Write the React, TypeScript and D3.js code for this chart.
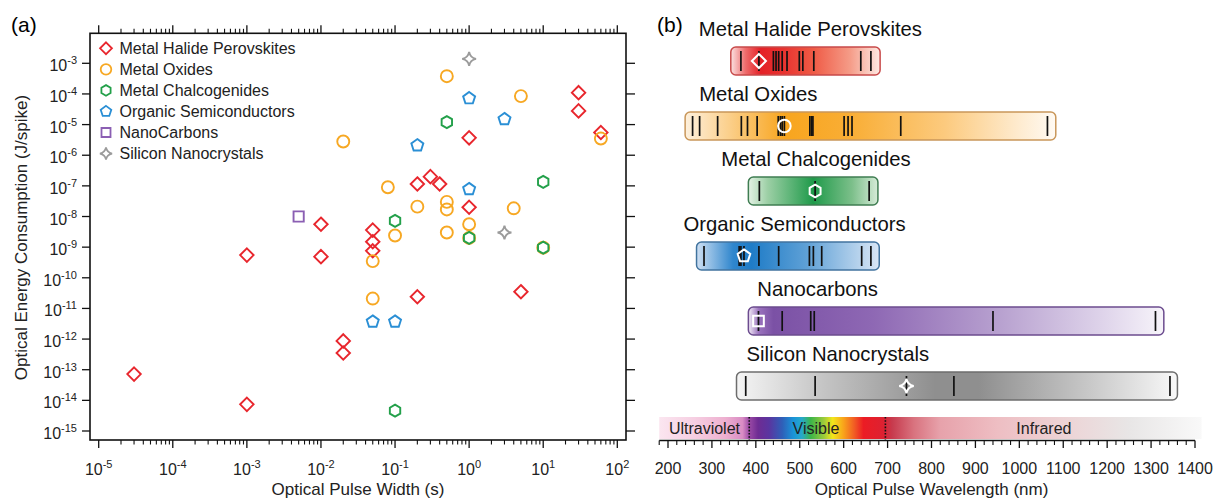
import React from 'react';
import * as d3 from 'd3';

const W = 1221;
const H = 501;
const FONT = '"Liberation Sans", Arial, Helvetica, sans-serif';

// ---------- Panel (a): pulse width (s) vs energy per spike (J) ----------
const perovskites: [number, number][] = [
  [30, 1.1e-4], [30, 2.8e-5], [60, 5.5e-6], [1, 3.7e-6], [0.3, 2e-7],
  [0.2, 1.15e-7], [0.4, 1.15e-7], [1, 2e-8], [0.01, 5.6e-9], [0.05, 3.6e-9],
  [0.05, 1.5e-9], [0.05, 7.6e-10], [0.001, 5.5e-10], [0.01, 4.9e-10],
  [0.2, 2.4e-11], [5, 3.5e-11], [0.02, 8.7e-13], [0.02, 3.5e-13],
  [3e-5, 7.2e-14], [0.001, 7.4e-15],
];
const oxides: [number, number][] = [
  [0.5, 3.8e-4], [5, 8.5e-5], [60, 3.5e-6], [0.02, 2.8e-6], [0.08, 9e-8],
  [0.2, 2.1e-8], [0.5, 3e-8], [0.5, 1.7e-8], [4, 1.85e-8], [1, 5.6e-9],
  [0.1, 2.4e-9], [0.5, 3e-9], [1, 2e-9], [10, 9.6e-10], [0.05, 3.5e-10],
  [0.05, 2.1e-11],
];
const chalcogenides: [number, number][] = [
  [0.5, 1.2e-5], [10, 1.35e-7], [0.1, 7.2e-9], [1, 2e-9], [10, 9.6e-10], [0.1, 4.6e-15],
];
const organics: [number, number][] = [
  [1, 7.2e-5], [3, 1.5e-5], [0.2, 2.1e-6], [1, 7.8e-8], [0.05, 3.7e-12], [0.1, 3.7e-12],
];
const nanocarbons: [number, number][] = [[0.005, 1e-8]];
const siliconNC: [number, number][] = [[1, 1.4e-3], [3, 3e-9]];

const seriesNames = [
  'Metal Halide Perovskites', 'Metal Oxides', 'Metal Chalcogenides',
  'Organic Semiconductors', 'NanoCarbons', 'Silicon Nanocrystals',
];
const xExponents = [-5, -4, -3, -2, -1, 0, 1, 2];
const yExponents = [-3, -4, -5, -6, -7, -8, -9, -10, -11, -12, -13, -14, -15];

// ---------- Panel (b): wavelengths reported per material class ----------
const materialNames = [
  'Metal Halide Perovskites', 'Metal Oxides', 'Metal Chalcogenides',
  'Organic Semiconductors', 'Nanocarbons', 'Silicon Nanocrystals',
];
const bandStart = [343, 239, 383, 265, 383, 356];
const bandEnd = [683, 1083, 678, 681, 1329, 1360];
const reportedWavelengths: number[][] = [
  [366, 407, 440, 446, 452, 460, 471, 499, 507, 532, 639, 662],
  [256, 272, 313, 367, 381, 403, 451, 456, 460, 465, 523, 527, 530, 601, 610, 619, 730, 1064],
  [408, 535, 658],
  [282, 362, 366, 373, 407, 452, 522, 531, 550, 641, 662],
  [406, 460, 525, 533, 940, 1310],
  [377, 535, 743, 851, 1343],
];
const markerWavelength = [407, 465, 535, 373, 406, 743];
const regionNames = ['Ultraviolet', 'Visible', 'Infrared'];
const regionLabelAt = [283, 537, 1056];
const regionBounds = [385, 695];

// ---------- styling ----------
const shapes = ['diamond', 'circle', 'hexagon', 'pentagon', 'square', 'star'];
const colors = ['#e8262d', '#f7a823', '#23a04a', '#2a8fd5', '#8b5fb3', '#9b9b9b'];
const bandBorder = ['#c84a4a', '#c9975a', '#3f7d52', '#41739e', '#6c4c8f', '#6d6d6d'];
const bandStops: [number, string][][] = [
  [[0, '#fbe1e1'], [0.1, '#ee6b6b'], [0.2, '#e42127'], [0.35, '#e8322f'], [0.55, '#ef5a45'], [0.8, '#f59c88'], [1, '#fde9e3']],
  [[0, '#fdf0dd'], [0.12, '#fbcf8a'], [0.27, '#f8a51e'], [0.45, '#f9ae36'], [0.7, '#fcca7e'], [0.9, '#feebcf'], [1, '#fffaf3']],
  [[0, '#e4f2e5'], [0.15, '#9ccfa5'], [0.5, '#1f9a4a'], [0.8, '#7cbf8a'], [1, '#d6ebd8']],
  [[0, '#cfe0f3'], [0.2, '#2f86cd'], [0.3, '#1f7cc7'], [0.6, '#5ea0d6'], [1, '#d9e6f5']],
  [[0, '#f3ecf7'], [0.025, '#9a72bd'], [0.06, '#7b51a5'], [0.3, '#8e68b4'], [0.6, '#b7a0cf'], [0.85, '#ded3ea'], [1, '#f7f4fa']],
  [[0, '#f5f5f5'], [0.2, '#c4c4c4'], [0.45, '#8f8f8f'], [0.55, '#8f8f8f'], [0.8, '#c8c8c8'], [1, '#f8f8f8']],
];
const labelOffset = [-32, 14, -27, -13, 9, 10];
const spectrumStops: [number, string][] = [
  [180, '#fbe6f0'], [260, '#f6cfe2'], [330, '#eeb0d0'], [370, '#d98cc4'], [385, '#9b4aa6'],
  [405, '#6e2c93'], [430, '#5a35a0'], [460, '#2f5fb8'], [485, '#1a93d8'], [505, '#27a9c9'],
  [525, '#3cb549'], [555, '#9ccb3b'], [575, '#f3e61a'], [600, '#f9a21b'], [625, '#f15a24'],
  [645, '#ec1c24'], [690, '#dd2131'], [710, '#c73a4d'], [760, '#d9737f'], [820, '#e7a2ab'],
  [950, '#eebec3'], [1100, '#edd3d5'], [1250, '#e8e6e6'], [1415, '#f9f9f9'],
];

function shapePath(kind: string, cx: number, cy: number, s: number): string {
  const poly = (n: number, r: number) => {
    const pts = d3.range(n).map((k) => {
      const a = -Math.PI / 2 + (k * 2 * Math.PI) / n;
      return [cx + r * Math.cos(a), cy + r * Math.sin(a)];
    });
    return 'M' + pts.map((p) => p.join(',')).join('L') + 'Z';
  };
  switch (kind) {
    case 'diamond':
      return `M${cx},${cy - s * 1.12}L${cx + s * 1.12},${cy}L${cx},${cy + s * 1.12}L${cx - s * 1.12},${cy}Z`;
    case 'circle': {
      const p = d3.path();
      p.arc(cx, cy, s, 0, Math.PI * 2);
      p.closePath();
      return p.toString();
    }
    case 'hexagon':
      return poly(6, s);
    case 'pentagon':
      return poly(5, s * 1.05);
    case 'square':
      return `M${cx - s * 0.85},${cy - s * 0.85}h${s * 1.7}v${s * 1.7}h${-s * 1.7}Z`;
    case 'star': {
      const r = s * 1.15;
      const c = r * 0.15;
      return `M${cx},${cy - r}Q${cx + c},${cy - c} ${cx + r},${cy}Q${cx + c},${cy + c} ${cx},${cy + r}` +
        `Q${cx - c},${cy + c} ${cx - r},${cy}Q${cx - c},${cy - c} ${cx},${cy - r}Z`;
    }
    default:
      return '';
  }
}

export default function App() {
  const series = [perovskites, oxides, chalcogenides, organics, nanocarbons, siliconNC];

  // panel (a) scales and frame
  const x = d3.scaleLog().domain([1e-5, 1e2]).range([98.7, 617.3]);
  const y = d3.scaleLog().domain([1e-3, 1e-15]).range([63.3, 431]);
  const fL = 90, fR = 626, fT = 33.3, fB = 440;
  const xMinor: number[] = [];
  xExponents.slice(0, -1).forEach((e) => {
    for (let m = 2; m <= 9; m++) xMinor.push(m * Math.pow(10, e));
  });

  // panel (b) scale
  const w = d3.scaleLinear().domain([200, 1400]).range([668, 1195]);
  const bandTop = d3.range(6).map((i) => 47 + i * 65);
  const bandH = 28;
  const stripL = w(180), stripR = w(1415);
  const axisY = 440.5;
  const majorTicks = d3.range(200, 1401, 100);
  const minorTicks = d3.range(180, 1401, 20).filter((v) => v % 100 !== 0);

  return (
    <svg width={W} height={H} style={{ position: 'absolute', left: 0, top: 0, display: 'block', background: '#fff' }}
      fontFamily={FONT}>
      <defs>
        {materialNames.map((_, i) => (
          <linearGradient key={i} id={`band${i}`} gradientUnits="userSpaceOnUse"
            x1={w(bandStart[i])} x2={w(bandEnd[i])} y1={0} y2={0}>
            {bandStops[i].map(([o, c], j) => <stop key={j} offset={o} stopColor={c} />)}
          </linearGradient>
        ))}
        <linearGradient id="spectrum" gradientUnits="userSpaceOnUse" x1={stripL} x2={stripR} y1={0} y2={0}>
          {spectrumStops.map(([nm, c], j) => (
            <stop key={j} offset={(w(nm) - stripL) / (stripR - stripL)} stopColor={c} />
          ))}
        </linearGradient>
      </defs>

      {/* ===== Panel (a) ===== */}
      <text x={11} y={32} fontSize={21}>(a)</text>
      <rect x={fL} y={fT} width={fR - fL} height={fB - fT} fill="none" stroke="#111" strokeWidth={1.6} />
      {xExponents.map((e) => {
        const px = x(Math.pow(10, e));
        return (
          <g key={`xm${e}`} stroke="#111" strokeWidth={1.3}>
            <line x1={px} x2={px} y1={fB} y2={fB + 8} />
            <line x1={px} x2={px} y1={fT} y2={fT - 8} />
          </g>
        );
      })}
      {xMinor.map((v, i) => {
        const px = x(v);
        return (
          <g key={`xn${i}`} stroke="#111" strokeWidth={1.1}>
            <line x1={px} x2={px} y1={fB} y2={fB + 4.5} />
            <line x1={px} x2={px} y1={fT} y2={fT - 4.5} />
          </g>
        );
      })}
      {yExponents.map((e) => {
        const py = y(Math.pow(10, e));
        return (
          <g key={`ym${e}`} stroke="#111" strokeWidth={1.3}>
            <line x1={fL} x2={fL - 8} y1={py} y2={py} />
            <line x1={fR} x2={fR + 9} y1={py} y2={py} />
          </g>
        );
      })}
      {xExponents.map((e) => (
        <text key={`xl${e}`} x={x(Math.pow(10, e))} y={475} fontSize={16} textAnchor="middle" fill="#222">
          10<tspan dy={-7} fontSize={11}>{e}</tspan>
        </text>
      ))}
      {yExponents.map((e) => (
        <text key={`yl${e}`} x={77} y={y(Math.pow(10, e)) + 8} fontSize={16} textAnchor="end" fill="#222">
          10<tspan dy={-7} fontSize={11}>{e}</tspan>
        </text>
      ))}
      <text x={358} y={495} fontSize={17} textAnchor="middle" fill="#222">Optical Pulse Width (s)</text>
      <text transform={`translate(27,237.5) rotate(-90)`} fontSize={17} textAnchor="middle" fill="#222">
        Optical Energy Consumption (J/spike)
      </text>

      {series.map((pts, si) => (
        <g key={`s${si}`} fill="none" stroke={colors[si]} strokeWidth={1.9}>
          {pts.map(([vx, vy], k) => (
            <path key={k} d={shapePath(shapes[si], x(vx), y(vy), 6)} />
          ))}
        </g>
      ))}

      {seriesNames.map((name, i) => {
        const ly = 48.3 + i * 21.05;
        return (
          <g key={`lg${i}`}>
            <path d={shapePath(shapes[i], 106, ly, 5.3)} fill="none" stroke={colors[i]} strokeWidth={1.8} />
            <text x={119.5} y={ly + 5.8} fontSize={16} fill="#222">{name}</text>
          </g>
        );
      })}

      {/* ===== Panel (b) ===== */}
      <text x={657} y={32} fontSize={21}>(b)</text>
      {materialNames.map((name, i) => {
        const x0 = w(bandStart[i]);
        const x1 = w(bandEnd[i]);
        const top = bandTop[i];
        return (
          <g key={`band${i}`}>
            <text x={x0 + labelOffset[i]} y={top - 11.5} fontSize={20.3} fill="#111">{name}</text>
            <rect x={x0} y={top} width={x1 - x0} height={bandH} rx={5} ry={5}
              fill={`url(#band${i})`} stroke={bandBorder[i]} strokeWidth={1.5} />
            {reportedWavelengths[i].map((nm, k) => (
              <line key={k} x1={w(nm)} x2={w(nm)} y1={top + 4} y2={top + bandH - 4} stroke="#111" strokeWidth={1.7} />
            ))}
            <path d={shapePath(shapes[i], w(markerWavelength[i]), top + bandH / 2, 6.3)}
              fill="none" stroke="#fff" strokeWidth={2} />
          </g>
        );
      })}

      <rect x={stripL} y={417} width={stripR - stripL} height={22} fill="url(#spectrum)" />
      {regionBounds.map((nm, i) => (
        <line key={`rb${i}`} x1={w(nm)} x2={w(nm)} y1={417} y2={axisY} stroke="#111" strokeWidth={1.6} strokeDasharray="1.6,1.6" />
      ))}
      {regionNames.map((name, i) => (
        <text key={`rn${i}`} x={w(regionLabelAt[i])} y={433.5} fontSize={16} textAnchor="middle" fill="#222">{name}</text>
      ))}
      <line x1={w(180)} x2={w(1400)} y1={axisY} y2={axisY} stroke="#111" strokeWidth={1.5} />
      {majorTicks.map((v) => (
        <g key={`bt${v}`}>
          <line x1={w(v)} x2={w(v)} y1={axisY} y2={axisY + 7.5} stroke="#111" strokeWidth={1.3} />
          <text x={w(v)} y={474} fontSize={16} textAnchor="middle" fill="#222">{v}</text>
        </g>
      ))}
      {minorTicks.map((v) => (
        <line key={`bn${v}`} x1={w(v)} x2={w(v)} y1={axisY} y2={axisY + 4.5} stroke="#111" strokeWidth={1.1} />
      ))}
      <text x={(w(200) + w(1400)) / 2} y={495} fontSize={17} textAnchor="middle" fill="#222">
        Optical Pulse Wavelength (nm)
      </text>
    </svg>
  );
}
